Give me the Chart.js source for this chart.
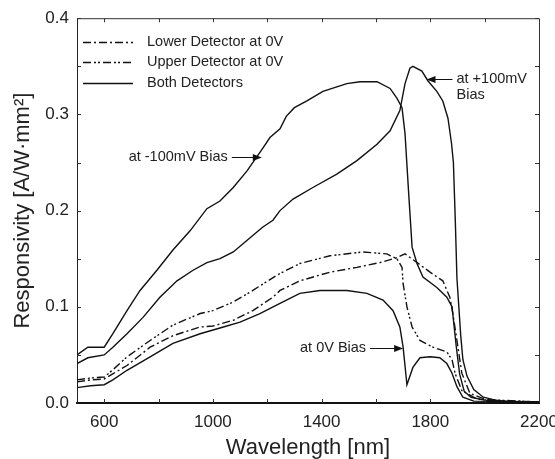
<!DOCTYPE html>
<html>
<head>
<meta charset="utf-8">
<script src="https://cdn.jsdelivr.net/npm/chart.js@4.4.1/dist/chart.umd.min.js"></script>
<style>
html, body { margin: 0; padding: 0; background: #fff; }
#wrap { width: 555px; height: 459px; }
</style>
</head>
<body>
<div id="wrap"><canvas id="chart" width="555" height="459"></canvas></div>
<script>
// axis ticks
var xTicks = [600, 1000, 1400, 1800, 2200];
var yTicks = [0.0, 0.1, 0.2, 0.3, 0.4];

// Lower detector at 0V (dash-dot)
var wlLower = [500, 550, 600, 630, 684, 769, 853, 953, 1000, 1075, 1147, 1221, 1247, 1320, 1431, 1530, 1615, 1677, 1707, 1751, 1799, 1846, 1872, 1883, 1898, 1916, 1946, 2008, 2200];
var rLower  = [0.022, 0.024, 0.025, 0.030, 0.039, 0.058, 0.070, 0.079, 0.080, 0.086, 0.096, 0.110, 0.117, 0.127, 0.136, 0.141, 0.146, 0.151, 0.155, 0.146, 0.136, 0.127, 0.110, 0.093, 0.065, 0.031, 0.010, 0.003, 0.001];

// Upper detector at 0V (dash-dot-dot)
var wlUpper = [500, 550, 600, 630, 684, 769, 853, 953, 1000, 1075, 1147, 1236, 1320, 1431, 1552, 1640, 1677, 1696, 1700, 1714, 1733, 1762, 1810, 1861, 1880, 1891, 1916, 1972, 2200];
var rUpper  = [0.024, 0.026, 0.027, 0.034, 0.048, 0.065, 0.081, 0.093, 0.096, 0.105, 0.117, 0.133, 0.145, 0.153, 0.157, 0.155, 0.150, 0.141, 0.124, 0.100, 0.079, 0.065, 0.058, 0.053, 0.045, 0.031, 0.013, 0.004, 0.001];

// Both detectors, 0V bias
var wlZero = [500, 550, 600, 632, 684, 769, 853, 953, 1026, 1100, 1173, 1236, 1320, 1394, 1493, 1567, 1626, 1663, 1688, 1700, 1714, 1736, 1762, 1799, 1835, 1861, 1880, 1898, 1920, 1960, 2200];
var rZero  = [0.016, 0.018, 0.019, 0.024, 0.034, 0.048, 0.062, 0.072, 0.078, 0.084, 0.093, 0.102, 0.114, 0.117, 0.117, 0.114, 0.107, 0.096, 0.079, 0.058, 0.019, 0.037, 0.047, 0.048, 0.047, 0.041, 0.031, 0.017, 0.006, 0.002, 0.001];

// Both detectors, -100mV bias
var wlNeg = [500, 540, 600, 632, 684, 732, 794, 853, 916, 978, 1026, 1075, 1125, 1184, 1210, 1247, 1270, 1300, 1346, 1405, 1493, 1541, 1604, 1652, 1677, 1696, 1707, 1720, 1733, 1751, 1773, 1824, 1861, 1880, 1895, 1908, 1925, 1950, 2000, 2060, 2200];
var rNeg  = [0.050, 0.058, 0.058, 0.072, 0.096, 0.117, 0.138, 0.159, 0.179, 0.202, 0.210, 0.224, 0.241, 0.265, 0.276, 0.285, 0.298, 0.307, 0.314, 0.324, 0.332, 0.334, 0.334, 0.327, 0.317, 0.307, 0.280, 0.220, 0.162, 0.145, 0.131, 0.120, 0.110, 0.100, 0.060, 0.030, 0.012, 0.006, 0.003, 0.002, 0.001];

// Both detectors, +100mV bias
var wlPos = [500, 540, 600, 632, 684, 743, 805, 868, 927, 978, 1026, 1075, 1125, 1184, 1221, 1247, 1295, 1368, 1456, 1530, 1604, 1652, 1688, 1707, 1725, 1736, 1769, 1791, 1824, 1846, 1865, 1878, 1885, 1892, 1898, 1905, 1912, 1920, 1935, 1960, 1995, 2040, 2100, 2200];
var rPos  = [0.041, 0.047, 0.050, 0.058, 0.072, 0.089, 0.110, 0.127, 0.138, 0.146, 0.150, 0.157, 0.169, 0.183, 0.190, 0.200, 0.212, 0.224, 0.238, 0.252, 0.269, 0.283, 0.304, 0.332, 0.348, 0.350, 0.345, 0.335, 0.324, 0.314, 0.296, 0.270, 0.250, 0.190, 0.130, 0.100, 0.070, 0.045, 0.028, 0.014, 0.006, 0.003, 0.001, 0.001];

var legendLabels = ["Lower Detector at 0V", "Upper Detector at 0V", "Both Detectors"];

// arrow notes: tip at a data point, text beside the tail
var notes = [
    { lines: ["at -100mV Bias"], tipX: 1180, tipY: 0.256, side: "left", len: 30 },
    { lines: ["at +100mV", "Bias"], tipX: 1786, tipY: 0.337, side: "right", len: 26 },
    { lines: ["at 0V Bias"], tipX: 1700, tipY: 0.057, side: "left", len: 33 }
];

var FONT = "'Liberation Sans', Arial, Helvetica, sans-serif";
var INK = "#111";
var TEXT = "#222";

var toPoints = function( xs, ys ){
    return xs.map(function( x, i ){ return { x: x, y: ys[i] }; });
};

var dashLower = [8, 3, 2, 3];
var dashUpper = [8, 3, 2, 2, 2, 3];

var makeSet = function( label, xs, ys, dash ){
    return {
        label: label,
        data: toPoints(xs, ys),
        borderColor: INK,
        borderWidth: 1.4,
        borderDash: dash,
        pointRadius: 0,
        tension: 0,
        fill: false
    };
};

var datasets = [
    makeSet(legendLabels[0], wlLower, rLower, dashLower),
    makeSet(legendLabels[1], wlUpper, rUpper, dashUpper),
    makeSet(legendLabels[2], wlZero, rZero, []),
    makeSet("-100mV", wlNeg, rNeg, []),
    makeSet("+100mV", wlPos, rPos, [])
];

// frame on top/right plus small inner ticks
var framePlugin = {
    id: "frame",
    afterDraw: function( chart ){
        var ctx = chart.ctx, a = chart.chartArea;
        var xs = chart.scales.x, ys = chart.scales.y;
        ctx.save();
        ctx.strokeStyle = "#333";
        ctx.lineWidth = 1;
        ctx.beginPath();
        ctx.moveTo(a.left, a.top + 0.5);
        ctx.lineTo(a.right + 0.5, a.top + 0.5);
        ctx.lineTo(a.right + 0.5, a.bottom);
        ctx.stroke();
        ctx.beginPath();
        for ( var v = 0.05; v < 0.4; v += 0.05 ){
            var py = Math.round(ys.getPixelForValue(v)) + 0.5;
            ctx.moveTo(a.left, py); ctx.lineTo(a.left + 4, py);
            ctx.moveTo(a.right, py); ctx.lineTo(a.right - 4, py);
        }
        for ( var w = 600; w < 2200; w += 200 ){
            var px = Math.round(xs.getPixelForValue(w)) + 0.5;
            ctx.moveTo(px, a.top); ctx.lineTo(px, a.top + 4);
            ctx.moveTo(px, a.bottom); ctx.lineTo(px, a.bottom - 4);
        }
        ctx.stroke();
        ctx.restore();
    }
};

var legendPlugin = {
    id: "innerLegend",
    afterDraw: function( chart ){
        var ctx = chart.ctx;
        ctx.save();
        ctx.font = "14.5px " + FONT;
        ctx.textBaseline = "middle";
        ctx.fillStyle = TEXT;
        var rows = [42, 62, 83];
        for ( var i = 0; i < legendLabels.length; i++ ){
            var ds = chart.data.datasets[i];
            ctx.strokeStyle = INK;
            ctx.lineWidth = 1.6;
            ctx.setLineDash(ds.borderDash);
            ctx.beginPath();
            ctx.moveTo(83, rows[i] + 0.5);
            ctx.lineTo(133, rows[i] + 0.5);
            ctx.stroke();
            ctx.setLineDash([]);
            ctx.fillText(legendLabels[i], 147, rows[i]);
        }
        ctx.restore();
    }
};

var notePlugin = {
    id: "notes",
    afterDraw: function( chart ){
        var ctx = chart.ctx;
        var xs = chart.scales.x, ys = chart.scales.y;
        ctx.save();
        ctx.font = "14.5px " + FONT;
        ctx.textBaseline = "middle";
        ctx.strokeStyle = INK;
        ctx.lineWidth = 1;
        notes.forEach(function( n ){
            var tx = xs.getPixelForValue(n.tipX);
            var ty = Math.round(ys.getPixelForValue(n.tipY)) + 0.5;
            var dir = n.side === "left" ? -1 : 1;
            var tail = tx + dir * n.len;
            ctx.beginPath();
            ctx.moveTo(tail, ty);
            ctx.lineTo(tx + dir * 8, ty);
            ctx.stroke();
            ctx.beginPath();
            ctx.moveTo(tx, ty);
            ctx.lineTo(tx + dir * 9, ty - 3.5);
            ctx.lineTo(tx + dir * 9, ty + 3.5);
            ctx.closePath();
            ctx.fillStyle = INK;
            ctx.fill();
            ctx.fillStyle = TEXT;
            ctx.textAlign = n.side === "left" ? "right" : "left";
            n.lines.forEach(function( line, k ){
                ctx.fillText(line, tail + dir * 4, ty - 1 + k * 16);
            });
        });
        ctx.restore();
    }
};

var ctx = document.getElementById("chart").getContext("2d");
var chart = new Chart(ctx, {
    type: "line",
    data: { datasets: datasets },
    options: {
        responsive: false,
        animation: false,
        devicePixelRatio: 1,
        layout: { padding: { top: 17, right: 16, left: 0, bottom: 0 } },
        plugins: {
            legend: { display: false },
            tooltip: { enabled: false }
        },
        scales: {
            x: {
                type: "linear",
                min: 500,
                max: 2200,
                grid: { display: false, drawTicks: false },
                border: { display: true, color: INK, width: 2 },
                afterBuildTicks: function( scale ){
                    scale.ticks = xTicks.map(function( v ){ return { value: v }; });
                },
                afterFit: function( scale ){
                    scale.height = 56;
                    scale.paddingLeft = 0;
                    scale.paddingRight = 0;
                },
                ticks: {
                    color: TEXT,
                    padding: 9,
                    maxRotation: 0,
                    autoSkip: false,
                    font: { family: FONT, size: 17 },
                    callback: function( v ){ return String(v); }
                },
                title: {
                    display: true,
                    text: "Wavelength [nm]",
                    color: TEXT,
                    padding: { top: 0, bottom: 0 },
                    font: { family: FONT, size: 22, lineHeight: 1 }
                }
            },
            y: {
                min: 0,
                max: 0.4,
                grid: { display: false, drawTicks: false },
                border: { display: true, color: "#222", width: 1 },
                afterBuildTicks: function( scale ){
                    scale.ticks = yTicks.map(function( v ){ return { value: v }; });
                },
                afterFit: function( scale ){
                    scale.width = 77;
                },
                ticks: {
                    color: TEXT,
                    padding: 8,
                    font: { family: FONT, size: 17 },
                    callback: function( v ){ return Number(v).toFixed(1); }
                },
                title: {
                    display: true,
                    text: "Responsivity [A/W\u00b7mm\u00b2]",
                    color: TEXT,
                    padding: { top: 10, bottom: 0 },
                    font: { family: FONT, size: 22 }
                }
            }
        }
    },
    plugins: [framePlugin, legendPlugin, notePlugin]
});
</script>
</body>
</html>
